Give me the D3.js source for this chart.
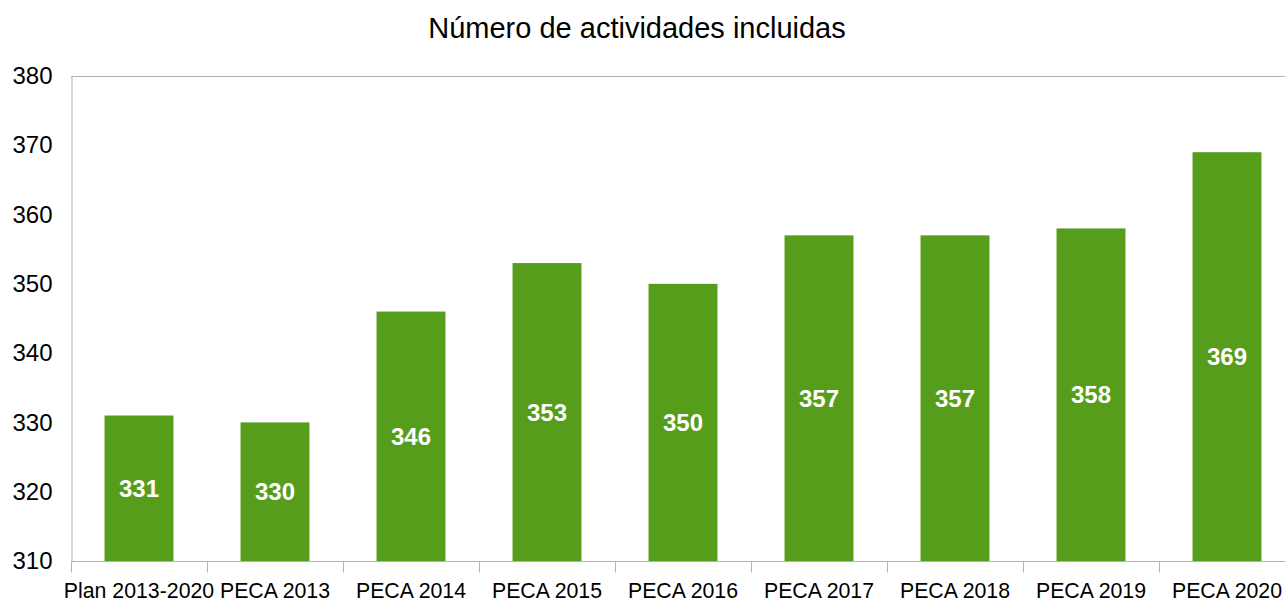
<!DOCTYPE html>
<html>
<head>
<meta charset="utf-8">
<script src="https://cdn.jsdelivr.net/npm/d3@7"></script>
<style>
  html, body { margin: 0; padding: 0; background: #fff; overflow: hidden; }
  svg { display: block; font-family: "Liberation Sans", Arial, sans-serif; }
</style>
</head>
<body>
<svg id="chart" width="1285" height="602"></svg>
<script>
const title = "Número de actividades incluidas";
const categories = ["Plan 2013-2020", "PECA 2013", "PECA 2014", "PECA 2015", "PECA 2016", "PECA 2017", "PECA 2018", "PECA 2019", "PECA 2020"];
const values = [331, 330, 346, 353, 350, 357, 357, 358, 369];
const yTicks = [310, 320, 330, 340, 350, 360, 370, 380];

(function () {
const svg = d3.select("#chart");
const mLeft = 71, mRight = 1295, mTop = 76, mBottom = 561;
const axisColor = "#b3b3b3";
const barColor = "#579d1c";

const x = d3.scaleBand().domain(categories).range([mLeft, mRight]).padding(0);
const y = d3.scaleLinear().domain([310, 380]).range([mBottom, mTop]);
const barW = x.bandwidth() * 0.507;

svg.append("text")
  .attr("x", 637).attr("y", 38)
  .attr("text-anchor", "middle")
  .attr("font-size", 29)
  .attr("fill", "#000")
  .text(title);

svg.append("line").attr("x1", mLeft).attr("x2", mRight).attr("y1", mTop + 0.5).attr("y2", mTop + 0.5)
  .attr("stroke", axisColor).attr("stroke-width", 1);
svg.append("line").attr("x1", mRight - 0.5).attr("x2", mRight - 0.5).attr("y1", mTop).attr("y2", mBottom)
  .attr("stroke", axisColor).attr("stroke-width", 1);

svg.selectAll("rect.bar").data(values).enter().append("rect")
  .attr("class", "bar")
  .attr("x", (d, i) => x(categories[i]) + (x.bandwidth() - barW) / 2)
  .attr("width", barW)
  .attr("y", d => y(d))
  .attr("height", d => y(310) - y(d))
  .attr("fill", barColor);

svg.selectAll("text.lbl").data(values).enter().append("text")
  .attr("class", "lbl")
  .attr("x", (d, i) => x(categories[i]) + x.bandwidth() / 2)
  .attr("y", d => (y(d) + y(310)) / 2)
  .attr("dy", "0.36em")
  .attr("text-anchor", "middle")
  .attr("font-size", 24)
  .attr("font-weight", "bold")
  .attr("fill", "#fff")
  .text(d => d);

const yAxis = d3.axisLeft(y).tickValues(yTicks).tickSize(0).tickPadding(19).tickFormat(d3.format("d"));
const yg = svg.append("g").attr("transform", `translate(${mLeft + 0.5},0)`).call(yAxis);
yg.select(".domain").attr("stroke", axisColor);
yg.selectAll("text").attr("font-size", 24).attr("fill", "#000").attr("font-family", "Liberation Sans, Arial, sans-serif");

const xg = svg.append("g").attr("transform", `translate(0,${mBottom + 0.5})`);
xg.append("line").attr("x1", mLeft).attr("x2", mRight).attr("stroke", axisColor);
const bounds = categories.map(c => x(c)).concat([mRight]);
xg.selectAll("line.tk").data(bounds).enter().append("line")
  .attr("class", "tk")
  .attr("x1", d => Math.round(d) + 0.5).attr("x2", d => Math.round(d) + 0.5)
  .attr("y1", 0).attr("y2", 11)
  .attr("stroke", axisColor);
xg.selectAll("text.xl").data(categories).enter().append("text")
  .attr("class", "xl")
  .attr("x", d => x(d) + x.bandwidth() / 2)
  .attr("y", 36)
  .attr("text-anchor", "middle")
  .attr("font-size", 21.3)
  .attr("fill", "#000")
  .text(d => d);
})();
</script>
</body>
</html>
